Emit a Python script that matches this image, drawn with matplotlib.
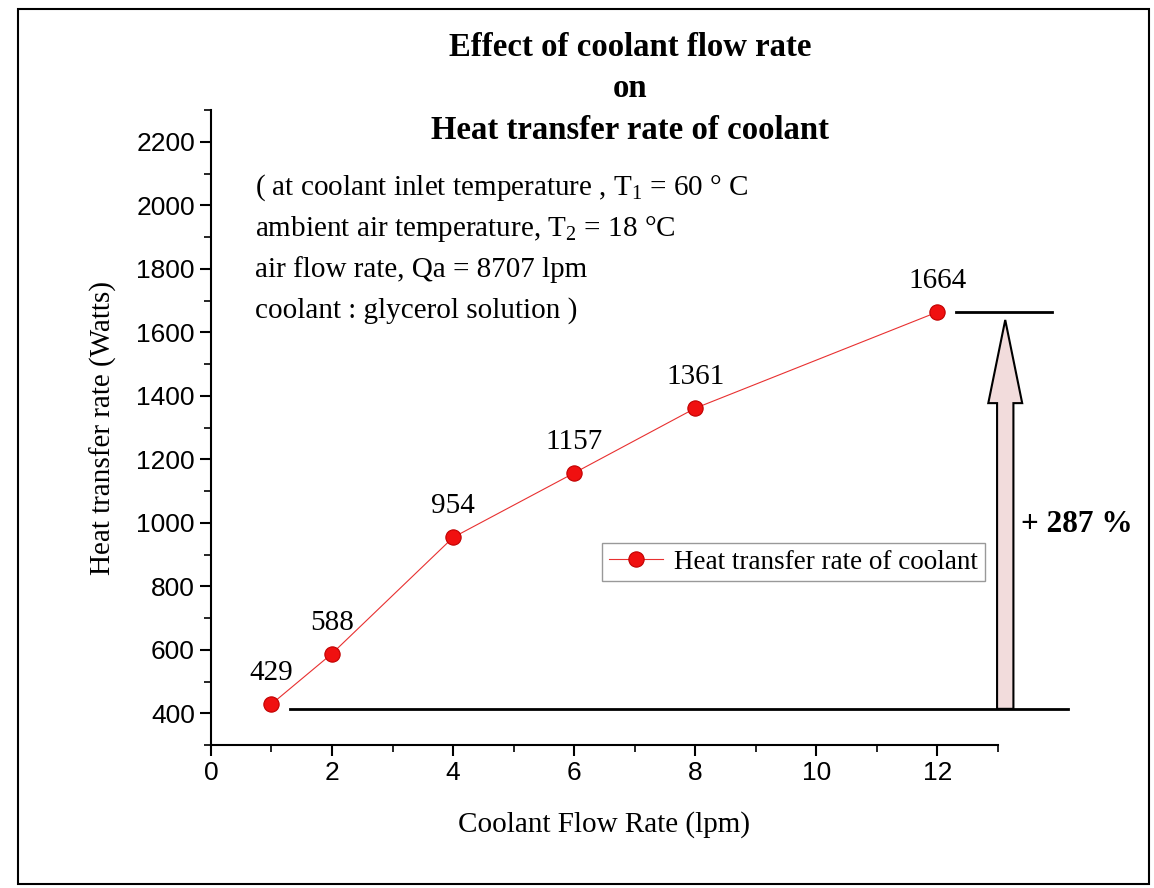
import matplotlib.pyplot as plt
from matplotlib.patches import FancyArrow, Rectangle
from matplotlib.ticker import MultipleLocator

# datos
flujo = [1, 2, 4, 6, 8, 12]
calor = [429, 588, 954, 1157, 1361, 1664]
etiquetas = ['429', '588', '954', '1157', '1361', '1664']

serif = 'Liberation Serif'
sans = 'Liberation Sans'
plt.rcParams['mathtext.fontset'] = 'custom'
plt.rcParams['mathtext.rm'] = serif
plt.rcParams['mathtext.it'] = serif

fig = plt.figure(figsize=(11.54, 8.88), dpi=100)
ax = fig.add_axes([0.1828, 0.161, 0.682, 0.715])

ax.plot(flujo, calor, color='#e83030', lw=0.8, marker='o', ms=11,
        mfc='#f01010', mec='#c00000', mew=0.8,
        label='Heat transfer rate of coolant')

for x, y, t in zip(flujo, calor, etiquetas):
    ax.annotate(t, (x, y), xytext=(0, 13), textcoords='offset points',
                ha='center', va='bottom', fontsize=21, family=serif)

ax.set_xlim(0, 13)
ax.set_ylim(300, 2300)
ax.xaxis.set_major_locator(MultipleLocator(2))
ax.xaxis.set_minor_locator(MultipleLocator(1))
ax.yaxis.set_major_locator(MultipleLocator(200))
ax.yaxis.set_minor_locator(MultipleLocator(100))
ax.set_yticks(range(400, 2201, 200))
for s in ['top', 'right']:
    ax.spines[s].set_visible(False)
for s in ['left', 'bottom']:
    ax.spines[s].set_linewidth(1.5)
ax.tick_params(which='major', length=8, width=1.5, labelsize=19)
ax.tick_params(which='minor', length=5, width=1.2)
for lbl in ax.get_xticklabels() + ax.get_yticklabels():
    lbl.set_family(sans)

ax.set_xlabel('Coolant Flow Rate (lpm)', fontsize=21, family=serif, labelpad=19)
ax.set_ylabel('Heat transfer rate (Watts)', fontsize=21, family=serif, labelpad=14)

# título
for yy, t in [(0.946, 'Effect of coolant flow rate'), (0.900, 'on'),
              (0.853, 'Heat transfer rate of coolant')]:
    fig.text(0.546, yy, t, ha='center', va='center',
             fontsize=23.6, fontweight='bold', family=serif)

# condiciones
cond = ['( at coolant inlet temperature , T$_1$ = 60 ° C',
        'ambient air temperature, T$_2$ = 18 °C',
        'air flow rate, Qa = 8707 lpm',
        'coolant : glycerol solution )']
for i, t in enumerate(cond):
    ax.text(0.72, 2055 - i * 129, t, fontsize=21, family=serif, va='center')

# líneas de referencia y flecha
ax.plot([1.3, 14.15], [calor[0] - 15, calor[0] - 15], color='black', lw=2, clip_on=False)
ax.plot([12.3, 13.9], [calor[-1], calor[-1]], color='black', lw=2, clip_on=False)
flecha = FancyArrow(13.12, calor[0] - 15, 0, calor[-1] - calor[0] - 10,
                    width=0.27, head_width=0.56, head_length=262,
                    length_includes_head=True, fc='#f2dcdc', ec='black',
                    lw=1.5, clip_on=False)
ax.add_patch(flecha)
ax.text(13.38, 996, '+ 287 %', fontsize=22.5, fontweight='bold', family=serif,
        va='center', ha='left')

leg = ax.legend(loc='center left', bbox_to_anchor=(0.497, 0.288),
                prop={'family': serif, 'size': 19.5}, fancybox=False,
                edgecolor='#808080', handlelength=2.0, borderpad=0.25,
                handletextpad=0.4, borderaxespad=0)
leg.get_frame().set_linewidth(1.0)

# marco de la figura
fig.patches.append(Rectangle((0.016, 0.005), 0.98, 0.985, transform=fig.transFigure,
                             fill=False, ec='black', lw=1.5))

fig.savefig('out.png', dpi=100)
